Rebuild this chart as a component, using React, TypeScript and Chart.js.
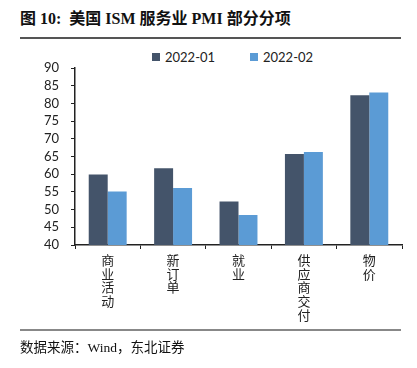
import React, { useEffect, useRef } from "react";
import { Chart, registerables } from "chart.js";

Chart.register(...registerables);

const categories: string[][] = [
  ["商", "业", "活", "动"],
  ["新", "订", "单"],
  ["就", "业"],
  ["供", "应", "商", "交", "付"],
  ["物", "价"],
];
const seriesJan: number[] = [59.9, 61.7, 52.3, 65.7, 82.3];
const seriesFeb: number[] = [55.1, 56.1, 48.5, 66.3, 83.1];
const seriesNames: string[] = ["2022-01", "2022-02"];
const seriesColors: string[] = ["#44546A", "#5B9BD5"];
const yMin = 40;
const yMax = 90;
const yStep = 5;

const titleText = "图 10:  美国 ISM 服务业 PMI 部分分项";
const sourceText = "数据来源：Wind，东北证券";

const tickFont = "Lato, 'Noto Sans CJK SC', sans-serif";

export default function App() {
  const ref = useRef<HTMLCanvasElement | null>(null);

  useEffect(() => {
    document.body.style.margin = "0";
    const ctx = ref.current;
    if (!ctx) return;
    const chart = new Chart(ctx, {
      type: "bar",
      data: {
        labels: categories,
        datasets: [
          {
            label: seriesNames[0],
            data: seriesJan,
            backgroundColor: seriesColors[0],
            barPercentage: 1,
            categoryPercentage: 0.58,
          },
          {
            label: seriesNames[1],
            data: seriesFeb,
            backgroundColor: seriesColors[1],
            barPercentage: 1,
            categoryPercentage: 0.58,
          },
        ],
      },
      options: {
        animation: false,
        responsive: false,
        maintainAspectRatio: false,
        layout: { padding: { left: 0, right: 15, top: 28, bottom: 0 } },
        plugins: {
          tooltip: { enabled: false },
          legend: { display: false },
        },
        scales: {
          x: {
            grid: {
              display: true,
              drawOnChartArea: false,
              drawTicks: true,
              tickLength: 4,
              color: "#222",
            },
            border: { display: true, color: "#222", width: 1.5 },
            ticks: {
              color: "#222",
              font: { family: tickFont, size: 13, lineHeight: 1.05 },
              padding: 5,
              maxRotation: 0,
              autoSkip: false,
            },
            afterFit: (s: any) => {
              s.height = 85;
            },
          },
          y: {
            min: yMin,
            max: yMax,
            grid: {
              display: true,
              drawOnChartArea: false,
              drawTicks: true,
              tickLength: 4,
              color: "#222",
            },
            border: { display: true, color: "#222", width: 1.5 },
            ticks: {
              stepSize: yStep,
              autoSkip: false,
              color: "#222",
              font: { family: tickFont, size: 13 },
              padding: 12,
            },
            afterFit: (s: any) => {
              s.width = 75;
            },
          },
        },
      },
    });
    return () => chart.destroy();
  }, []);

  const legendItem = (i: number, left: number) => (
    <div
      key={i}
      style={{
        position: "absolute",
        left,
        top: 49,
        display: "flex",
        alignItems: "center",
        fontFamily: tickFont,
        fontSize: 13,
        color: "#222",
        lineHeight: "16px",
      }}
    >
      <span
        style={{
          display: "inline-block",
          width: 8,
          height: 8,
          background: seriesColors[i],
          marginRight: 5,
        }}
      />
      {seriesNames[i]}
    </div>
  );

  return (
    <div
      style={{
        position: "relative",
        width: 417,
        height: 368,
        background: "#fff",
        overflow: "hidden",
      }}
    >
      <div
        style={{
          position: "absolute",
          left: 20,
          top: 5,
          fontFamily: "'Liberation Serif', 'Noto Sans CJK SC', serif",
          fontWeight: "bold",
          fontSize: 16,
          color: "#111",
          whiteSpace: "pre",
        }}
      >
        {titleText}
      </div>
      <div
        style={{
          position: "absolute",
          left: 20,
          top: 37,
          width: 381,
          height: 1.5,
          background: "#555",
        }}
      />
      {legendItem(0, 152)}
      {legendItem(1, 250)}
      <canvas
        ref={ref}
        width={417}
        height={290}
        style={{ position: "absolute", left: 0, top: 40, width: 417, height: 290 }}
      />
      <div
        style={{
          position: "absolute",
          left: 20,
          top: 329,
          width: 381,
          height: 2,
          background: "#888",
        }}
      />
      <div
        style={{
          position: "absolute",
          left: 20,
          top: 336,
          fontFamily: "'Liberation Serif', 'Noto Sans CJK SC', serif",
          fontSize: 13.5,
          color: "#111",
          whiteSpace: "pre",
        }}
      >
        {sourceText}
      </div>
    </div>
  );
}
